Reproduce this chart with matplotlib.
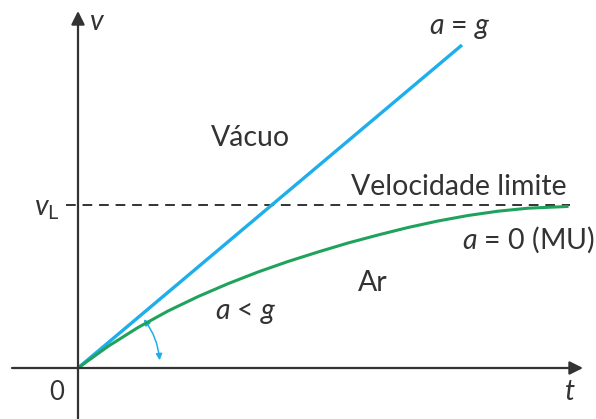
import numpy as np
import matplotlib.pyplot as plt
from matplotlib.patches import FancyArrowPatch

# values (arbitrary units)
t_vacuum = [0, 384]
v_vacuum = [0, 323]

t_air = [0, 30, 60, 90, 120, 150, 180, 210, 240, 270, 300, 330, 360, 390, 420, 450, 489]
v_air = [0, 21.6, 40.5, 57, 71.4, 84.3, 96, 106.5, 116, 125, 133, 140.5, 147, 152.5, 156.8, 159.8, 161.5]

v_limit = 163
t_limit_span = [-12, 492]

plt.rcParams['font.family'] = ['Lato', 'DejaVu Sans']
plt.rcParams['mathtext.fontset'] = 'custom'
plt.rcParams['mathtext.rm'] = 'Lato'
plt.rcParams['mathtext.it'] = 'Lato:italic'

ink = '#333333'
blue = '#1eaeea'
green = '#1fa35c'

fig = plt.figure(figsize=(5.96, 4.19), dpi=100)
ax = fig.add_axes([0, 0, 1, 1])
ax.set_xlim(-78, 518)
ax.set_ylim(-51, 368)
ax.axis('off')

# axes with arrows
ax.annotate('', xy=(505, 0), xytext=(-66, 0),
            arrowprops=dict(arrowstyle='-|>', mutation_scale=20, lw=1.6,
                            color=ink, shrinkA=0, shrinkB=0))
ax.annotate('', xy=(0, 357), xytext=(0, -51),
            arrowprops=dict(arrowstyle='-|>', mutation_scale=20, lw=1.6,
                            color=ink, shrinkA=0, shrinkB=0))

# limit velocity
ax.plot(t_limit_span, [v_limit, v_limit], color=ink, lw=1.4, ls=(0, (5, 3.5)))

# curves
ax.plot(t_vacuum, v_vacuum, color=blue, lw=2.4, solid_capstyle='butt')
ax.plot(t_air, v_air, color=green, lw=2.2)

# angle arrow
r = 82
a1, a2 = np.radians(38.5), np.radians(3.5)
arc = FancyArrowPatch((r * np.cos(a1), r * np.sin(a1)), (r * np.cos(a2), r * np.sin(a2)),
                      connectionstyle='arc3,rad=-0.16', arrowstyle='<|-|>',
                      mutation_scale=9, lw=1.1, color=blue)
ax.add_patch(arc)

# labels
fs = 20.5
ax.text(19, 346, 'v', style='italic', fontsize=fs, color=ink, ha='center', va='center')
ax.text(-31, 159, r'$v_{\mathrm{L}}$', fontsize=fs, color=ink, ha='center', va='center')
ax.text(-21, -24, '0', fontsize=fs - 2, color=ink, ha='center', va='center')
ax.text(492, -24, 't', style='italic', fontsize=fs, color=ink, ha='center', va='center')
ax.text(382, 340, r'$a$ = $g$', fontsize=fs, color=ink, ha='center', va='center')
ax.text(172, 230, 'Vácuo', fontsize=fs, color=ink, ha='center', va='center')
ax.text(381, 181, 'Velocidade limite', fontsize=fs, color=ink, ha='center', va='center')
ax.text(450, 128, r'$a$ = 0 (MU)', fontsize=fs, color=ink, ha='center', va='center')
ax.text(295, 85, 'Ar', fontsize=fs, color=ink, ha='center', va='center')
ax.text(168, 55, r'$a$ < $g$', fontsize=fs, color=ink, ha='center', va='center')

fig.savefig('out.png', dpi=100)
